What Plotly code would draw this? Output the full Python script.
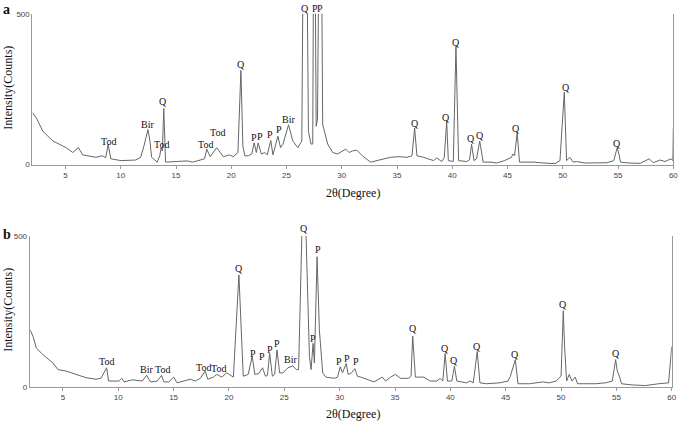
import plotly.graph_objects as go

# ---------------- Panel a data ----------------
theta_a = [2.0, 2.37, 2.96, 3.86, 5.06, 5.66, 6.17, 6.55, 7.76, 8.32, 8.64, 8.86, 9.1,
           10.03, 11.35, 11.8, 12.1, 12.46, 12.64, 12.79, 13.29, 13.53, 13.65, 13.76, 13.89, 14.05,
           15.0, 16.0, 16.5, 17.2, 17.58, 17.78, 18.09, 18.68, 19.28, 19.82, 20.18, 20.6, 20.87, 21.05, 21.23,
           21.53, 21.85, 22.07, 22.27, 22.43, 22.72, 23.03, 23.26, 23.57, 23.77, 24.22, 24.46, 24.67,
           25.18, 25.57, 26.02, 26.38, 26.66, 26.98, 27.21, 27.37, 27.5, 27.68, 27.8, 28.06, 28.27,
           28.72, 29.17, 29.61, 30.36, 30.66, 30.96, 31.35, 31.86, 32.6, 33.2, 34.4, 35.15, 35.9,
           36.35, 36.59, 36.8, 37.4, 38.3, 38.6, 39.04, 39.27, 39.49, 39.64, 40.09, 40.33, 40.45,
           40.57, 41.29, 41.56, 41.74, 41.96, 42.19, 42.48, 42.79, 43.5, 44.0, 44.73, 45.35, 45.48,
           45.63, 45.87, 46.08, 47.4, 48.3, 49.3, 49.74, 50.13, 50.34, 50.64, 50.94, 51.24, 52.0,
           53.0, 54.0, 54.61, 54.92, 55.07, 55.22, 56.0, 57.0, 57.82, 58.17, 58.8, 59.25, 59.78,
           59.96, 60.0]
intensity_a = [172, 154, 110, 78, 56, 40, 56, 32, 24, 29, 23, 67, 19,
               13, 15, 24, 62, 116, 78, 24, 8, 29, 56, 45, 186, 8,
               10, 12, 8, 15, 19, 51, 26, 56, 26, 32, 26, 40, 312, 60, 29,
               29, 35, 72, 40, 72, 35, 40, 32, 80, 32, 94, 56, 67,
               132, 78, 56, 78, 1500, 110, 68, 68, 1200, 127, 150, 1300, 133,
               68, 40, 35, 51, 40, 45, 48, 29, 8, 13, 24, 26, 24,
               29, 121, 29, 24, 13, 22, 10, 23, 143, 13, 10, 392, 198,
               13, 10, 16, 67, 13, 19, 78, 8, 8, 5, 13, 24, 35,
               29, 105, 8, 8, 5, 3, 13, 240, 13, 24, 8, 10, 5,
               5, 6, 13, 56, 35, 8, 5, 4, 19, 6, 15, 10, 19,
               13, 121]

labels_a_text = ["Tod", "Bir", "Tod", "Q", "Tod", "Tod", "Q", "P", "P", "P", "P", "Bir",
                 "Q", "Q", "Q", "Q", "Q", "Q", "Q", "Q"]
labels_a_x = [8.9, 12.46, 13.69, 13.86, 17.7, 18.75, 20.87, 22.07, 22.58, 23.53, 24.29, 25.18,
              36.59, 39.43, 40.33, 41.71, 42.48, 45.8, 50.26, 54.88]
labels_a_y = [78, 132, 65, 208, 65, 107, 333, 89, 94, 100, 116, 148,
              137, 156, 406, 87, 96, 119, 257, 69]
# labels above the clipped peaks (drawn above the axis top)
top_labels_a_text = ["Q", "P", "P"]
top_labels_a_x = [26.67, 27.57, 28.02]

# ---------------- Panel b data ----------------
theta_b = [2.07, 2.31, 2.61, 3.21, 4.1, 4.55, 5.3, 6.2, 7.09, 7.99, 8.44, 8.95, 9.13,
           10.08, 10.32, 10.53, 11.28, 12.17, 12.56, 12.92, 13.52, 13.91, 14.12, 14.57, 15.01,
           15.31, 16.06, 16.51, 16.96, 17.41, 17.85, 18.09, 18.6, 18.9, 19.35, 19.8, 20.4, 20.9,
           21.29, 21.74, 22.1, 22.34, 22.7, 23.03, 23.3, 23.48, 23.68, 23.92, 24.13, 24.34, 24.58,
           24.88, 25.33, 25.78, 26.08, 26.29, 26.58, 26.77, 26.97, 27.27, 27.42, 27.6, 27.72, 27.96,
           28.17, 28.32, 28.47, 28.77, 29.52, 29.81, 30.05, 30.26, 30.59, 30.77, 31.07, 31.37, 31.61,
           31.91, 32.5, 33.1, 33.85, 34.15, 34.6, 35.04, 35.49, 36.24, 36.45, 36.6, 36.84, 37.59,
           38.18, 38.78, 39.08, 39.32, 39.53, 39.74, 40.13, 40.37, 40.58, 41.47, 41.77, 42.07,
           42.43, 42.67, 43.27, 44.46, 45.21, 45.42, 45.87, 46.11, 47.15, 48.35, 48.95, 49.55,
           50.0, 50.2, 50.32, 50.5, 50.74, 50.98, 51.28, 51.49, 52.24, 53.13, 54.03, 54.63, 54.93,
           55.08, 55.29, 55.46, 56.42, 57.62, 58.81, 59.71, 60.0]
intensity_b = [187, 166, 128, 106, 79, 57, 52, 41, 30, 25, 28, 63, 19,
               19, 28, 16, 23, 19, 38, 16, 19, 38, 16, 16, 32,
               13, 19, 25, 19, 28, 52, 25, 32, 41, 32, 46, 32, 371,
               35, 41, 101, 41, 44, 63, 35, 38, 111, 35, 41, 122, 46,
               46, 63, 69, 57, 57, 495, 600, 495, 101, 57, 144, 79, 431,
               187, 101, 46, 32, 28, 32, 66, 46, 77, 41, 46, 60, 35,
               32, 25, 16, 32, 19, 32, 41, 28, 28, 35, 168, 32, 32,
               19, 19, 28, 19, 110, 19, 19, 68, 19, 13, 19, 13,
               117, 13, 10, 13, 19, 35, 90, 10, 10, 16, 13, 19,
               35, 252, 133, 19, 41, 19, 32, 10, 10, 10, 13, 19, 90,
               52, 32, 10, 6, 4, 10, 13, 133]

labels_b_text = ["Tod", "Bir", "Tod", "Tod", "Tod", "Q", "P", "P", "P", "P", "Bir", "P", "P",
                 "P", "P", "P", "Q", "Q", "Q", "Q", "Q", "Q", "Q"]
labels_b_x = [8.94, 12.56, 13.96, 17.7, 19.05, 20.9, 22.19, 23.0, 23.69, 24.37, 25.57, 27.57, 28.02,
              29.96, 30.62, 31.45, 36.6, 39.52, 40.35, 42.43, 45.8, 50.2, 54.97]
labels_b_y = [84, 57, 57, 63, 60, 393, 111, 101, 124, 142, 90, 160, 456,
              84, 93, 84, 193, 128, 88, 133, 106, 272, 111]
top_labels_b_text = ["Q"]
top_labels_b_x = [26.76]

x_ticks = [5, 10, 15, 20, 25, 30, 35, 40, 45, 50, 55, 60]
y_ticks = [0, 500]

SERIF = "Liberation Serif, Times New Roman, serif"
SANS = "Liberation Sans, Arial, sans-serif"
LINE_COLOR = "#666666"
AXIS_COLOR = "#999999"

fig = go.Figure()
fig.add_trace(go.Scatter(x=theta_a, y=intensity_a, mode="lines",
                         line=dict(color=LINE_COLOR, width=1), xaxis="x", yaxis="y",
                         showlegend=False, hoverinfo="skip"))
fig.add_trace(go.Scatter(x=theta_b, y=intensity_b, mode="lines",
                         line=dict(color=LINE_COLOR, width=1), xaxis="x2", yaxis="y2",
                         showlegend=False, hoverinfo="skip"))

W, H = 685, 427
xa_dom = [32.6 / W, 678.3 / W]
xb_dom = [29.9 / W, 676.7 / W]
ya_dom = [1 - 164 / H, 1 - 10 / H]
yb_dom = [1 - 391 / H, 1 - 237 / H]

xcommon = dict(range=[2, 60], tickvals=x_ticks, ticks="outside", ticklen=3, tickcolor=AXIS_COLOR,
               showline=True, linecolor=AXIS_COLOR, linewidth=1, showgrid=False, zeroline=False,
               tickfont=dict(family=SANS, size=8, color="#444"), fixedrange=True)
ycommon = dict(range=[0, 500], tickvals=y_ticks, ticks="", showline=True, linecolor=AXIS_COLOR,
               linewidth=1, mirror=True, showgrid=False, zeroline=False,
               tickfont=dict(family=SANS, size=8, color="#444"), fixedrange=True)

lab_font = dict(family=SERIF, size=10, color="#111")
annotations = []
for t, x, y in zip(labels_a_text, labels_a_x, labels_a_y):
    annotations.append(dict(text=t, x=x, y=y, xref="x", yref="y", showarrow=False,
                            font=lab_font, yanchor="middle"))
for t, x in zip(top_labels_a_text, top_labels_a_x):
    annotations.append(dict(text=t, x=x, y=1 - 5 / H, xref="x", yref="paper", showarrow=False,
                            font=lab_font, yanchor="middle"))
for t, x, y in zip(labels_b_text, labels_b_x, labels_b_y):
    annotations.append(dict(text=t, x=x, y=y, xref="x2", yref="y2", showarrow=False,
                            font=lab_font, yanchor="middle"))
for t, x in zip(top_labels_b_text, top_labels_b_x):
    annotations.append(dict(text=t, x=x, y=1 - 229.5 / H, xref="x2", yref="paper", showarrow=False,
                            font=lab_font, yanchor="middle"))

# axis titles and panel letters
for yc, xc in [(193, 356), (419, 356)]:
    annotations.append(dict(text="2θ(Degree)", x=xc / W, y=1 - yc / H, xref="paper", yref="paper",
                            showarrow=False, font=dict(family=SERIF, size=12, color="#111"),
                            xanchor="center", yanchor="middle"))
for yc in [85, 312]:
    annotations.append(dict(text="Intensity(Counts)", x=8.5 / W, y=1 - yc / H, xref="paper",
                            yref="paper", showarrow=False, textangle=-90,
                            font=dict(family=SERIF, size=12, color="#111"),
                            xanchor="center", yanchor="middle"))
for t, yc in [("a", 6), ("b", 235)]:
    annotations.append(dict(text="<b>%s</b>" % t, x=7 / W, y=1 - yc / H, xref="paper", yref="paper",
                            showarrow=False, font=dict(family=SERIF, size=14, color="#111"),
                            xanchor="center", yanchor="middle"))

fig.update_layout(
    width=W, height=H, margin=dict(l=0, r=0, t=0, b=0),
    paper_bgcolor="white", plot_bgcolor="white",
    xaxis=dict(domain=xa_dom, anchor="y", **xcommon),
    yaxis=dict(domain=ya_dom, anchor="x", **ycommon),
    xaxis2=dict(domain=xb_dom, anchor="y2", **xcommon),
    yaxis2=dict(domain=yb_dom, anchor="x2", **ycommon),
    annotations=annotations,
)

fig.write_html("out.html", config={"displayModeBar": False},
               post_script="document.body.style.margin='0';document.body.style.overflow='hidden';")
